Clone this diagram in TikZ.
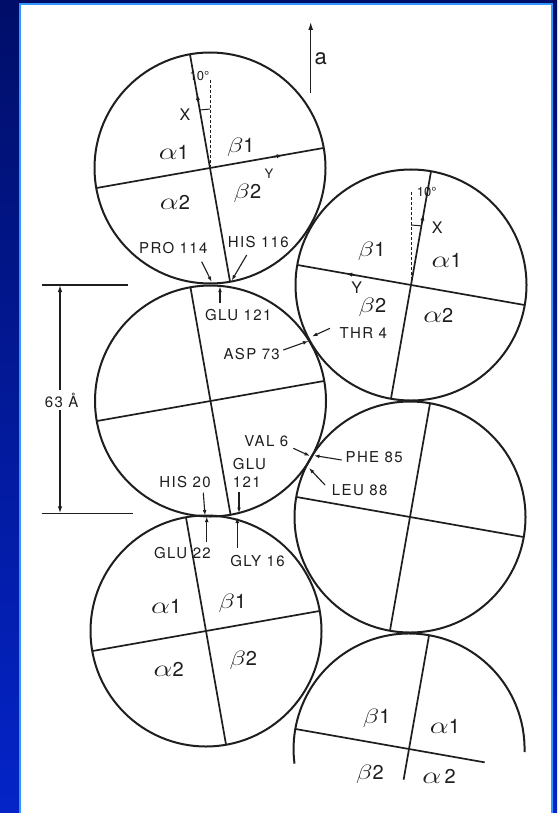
\documentclass[tikz,border=0pt]{standalone}
\usepackage{graphicx}
\usepackage{fontspec}
\setmainfont{TeX Gyre Heros}
\newfontfamily\lab[LetterSpace=9]{TeX Gyre Heros}
\usetikzlibrary{arrows.meta,calc}
\definecolor{ink}{RGB}{30,30,30}
\definecolor{bgtop}{RGB}{0,14,105}
\definecolor{bgbot}{RGB}{4,36,200}
\definecolor{edge}{RGB}{50,150,255}
\newcommand{\Alf}{\scalebox{1.45}[1.15]{$\alpha$}}
\newcommand{\Bet}{\scalebox{1.3}[1.0]{$\beta$}}
\begin{document}
\begin{tikzpicture}[x=1pt,y=-1pt,
  ring/.style={circle,draw=ink,line width=2pt,minimum size=231pt,inner sep=0pt,outer sep=0pt},
  hole/.style={circle,minimum size=231pt,inner sep=0pt,outer sep=0pt},
  axisline/.style={draw=ink,line width=1.7pt},
  axtip/.style={draw=ink,line width=1.7pt,-{Latex[length=6pt,width=4.2pt]}},
  dashline/.style={draw=ink,line width=0.9pt,dash pattern=on 3pt off 2pt},
  tick/.style={draw=ink,line width=1pt},
  ptr/.style={draw=ink,line width=1.1pt,-{Latex[length=5.5pt,width=3.8pt]}},
  res/.style={text=ink,font=\lab\fontsize{15}{17.7}\selectfont,inner sep=0pt},
  sub/.style={text=ink,font=\fontsize{20}{20}\selectfont,inner sep=0pt},
  ax/.style={text=ink,font=\fontsize{16}{16}\selectfont,inner sep=0pt},
  deg/.style={text=ink,font=\fontsize{13}{13}\selectfont,inner sep=0pt},
]
\useasboundingbox (0,0) rectangle (557,813);
% background
\shade[top color=bgtop,bottom color=bgbot] (0,0) rectangle (557,813);
\fill[white] (20,4) rectangle (552,813);
\draw[edge,line width=2.2pt] (20,813) -- (20,4) -- (552,4) -- (552,813);

% circles
\node[ring] (c1) at (210,168) {};
\node[ring] (c2) at (411,285) {};
\node[ring] (c3) at (210.5,401) {};
\node[ring] (c4) at (206,631) {};
\node[ring] (c5) at (410,517) {};
\node[hole] (c6) at (409,749) {};
\draw[ink,line width=2pt] ($(c6.center)+(115.5,3)$) arc[start angle=1.5,end angle=-187.3,radius=115.5];

% diameters
\draw[axisline] (c1.100) -- (c1.280);
\draw[axisline] (c1.190) -- (c1.10);
\draw[axisline] (c2.80) -- (c2.260);
\draw[axisline] (c2.170) -- (c2.350);
\draw[axisline] (c3.100) -- (c3.280);
\draw[axisline] (c3.190) -- (c3.10);
\draw[axisline] (c4.100) -- (c4.280);
\draw[axisline] (c4.190) -- (c4.10);
\draw[axisline] (c5.80) -- (c5.260);
\draw[axisline] (c5.170) -- (c5.350);
\draw[axisline] (c6.80) -- ($(c6.center)!0.27!(c6.260)$);
\draw[axisline] (c6.170) -- ($(c6.center)!0.665!(c6.350)$);

% axis arrows
\draw[axtip] ($(c1.center)!0.58!(c1.100)$) -- ($(c1.center)!0.65!(c1.100)$);
\draw[axtip] ($(c1.center)!0.56!(c1.10)$) -- ($(c1.center)!0.64!(c1.10)$);
\draw[axtip] ($(c2.center)!0.55!(c2.80)$) -- ($(c2.center)!0.62!(c2.80)$);
\draw[axtip] ($(c2.center)!0.50!(c2.170)$) -- ($(c2.center)!0.57!(c2.170)$);

% dashed verticals and angle ticks
\coordinate (d1) at (210,78);
\coordinate (d2) at (411,192);
\draw[dashline] (c1.center) -- (d1);
\draw[dashline] (c2.center) -- (d2);
\draw[tick] ($(c1.center)!0.51!(c1.100)$) -- ($(c1.center)!0.655!(d1)$);
\draw[tick] ($(c2.center)!0.52!(c2.80)$) -- ($(c2.center)!0.645!(d2)$);

% axis labels
\node[deg] (deg1) at (199.5,75.5) {10°};
\node[ax] (x1) at (185,115) {X};
\node[ax,font=\fontsize{13}{13}\selectfont] (y1) at (269,174) {Y};
\node[deg] (deg2) at (426.7,192) {10°};
\node[ax] (x2) at (437.3,227.3) {X};
\node[ax] (y2) at (356.7,287.5) {Y};

% subunit labels
\node[sub] (c1a1) at (173.8,152.3) {\Alf1};
\node[sub] (c1b1) at (240.8,147.5) {\Bet1};
\node[sub] (c1a2) at (175,202.5) {\Alf2};
\node[sub] (c1b2) at (247.5,193.3) {\Bet2};
\node[sub] (c2b1) at (371.7,251.7) {\Bet1};
\node[sub] (c2a1) at (446.7,260) {\Alf1};
\node[sub] (c2b2) at (372.5,307.5) {\Bet2};
\node[sub] (c2a2) at (438.3,315) {\Alf2};
\node[sub] (c4a1) at (166.2,606) {\Alf1};
\node[sub] (c4b1) at (232.5,603.3) {\Bet1};
\node[sub] (c4a2) at (168.7,669) {\Alf2};
\node[sub] (c4b2) at (243.3,660.8) {\Bet2};
\node[sub] (c6b1) at (376.7,718.3) {\Bet1};
\node[sub] (c6a1) at (445,726) {\Alf1};
\node[sub] (c6b2) at (370,774) {\Bet2};
\node[sub] (c6a2) at (439,776.7) {\Alf\,2};

% residue labels
\node[res] (pro) at (173.3,248) {PRO 114};
\node[res] (his116) at (258.3,241.7) {HIS 116};
\node[res] (glu121a) at (238.3,315.3) {GLU 121};
\node[res] (thr) at (363.3,333.3) {THR 4};
\node[res] (asp) at (251.7,353.7) {ASP 73};
\node[res] (val) at (266.3,440.8) {VAL 6};
\node[res,align=left,anchor=west] (glu121b) at (232.7,472.8) {GLU\\121};
\node[res] (his20) at (185,482) {HIS 20};
\node[res] (phe) at (374.2,456.7) {PHE 85};
\node[res] (leu) at (359.7,490) {LEU 88};
\node[res] (glu22) at (182.5,553.3) {GLU 22};
\node[res] (gly) at (257.5,560.8) {GLY 16};

% residue pointers
\coordinate (pA1) at (201.7,261.7); \coordinate (pA2) at (211.7,282);
\coordinate (pB1) at (246.7,255);   \coordinate (pB2) at (231.7,280.5);
\coordinate (pC1) at (220,303.3);   \coordinate (pC2) at (220,286.5);
\coordinate (pD1) at (283.3,350);   \coordinate (pD2) at (308.5,341);
\coordinate (pE1) at (330,328.3);   \coordinate (pE2) at (312,336.5);
\coordinate (pF1) at (293.3,448.3); \coordinate (pF2) at (310,456);
\coordinate (pG1) at (341.7,460);   \coordinate (pG2) at (314,455.5);
\coordinate (pH1) at (325,485);     \coordinate (pH2) at (309,468);
\coordinate (pI1) at (203.3,492.7); \coordinate (pI2) at (205,515.5);
\coordinate (pJ1) at (239,491.7);   \coordinate (pJ2) at (239,513);
\coordinate (pK1) at (206.7,541.7); \coordinate (pK2) at (206.7,516.5);
\coordinate (pL1) at (237.3,548.3); \coordinate (pL2) at (237.3,517.5);
\draw[ptr] (pA1) -- (pA2);
\draw[ptr] (pB1) -- (pB2);
\draw[ptr] (pC1) -- (pC2);
\draw[ptr] (pD1) -- (pD2);
\draw[ptr] (pE1) -- (pE2);
\draw[ptr] (pF1) -- (pF2);
\draw[ptr] (pG1) -- (pG2);
\draw[ptr] (pH1) -- (pH2);
\draw[ptr] (pI1) -- (pI2);
\draw[ptr] (pJ1) -- (pJ2);
\draw[ptr] (pK1) -- (pK2);
\draw[ptr] (pL1) -- (pL2);

% a axis
\coordinate (abot) at (310.7,93);
\coordinate (atop) at (310.7,22);
\draw[ink,line width=1.3pt,-{Latex[length=8pt,width=5pt]}] (abot) -- (atop);
\node[text=ink,font=\fontsize{22}{22}\selectfont,inner sep=0pt] (alab) at (320.8,58.3) {a};

% 63 A dimension
\coordinate (t1) at (41.7,285);  \coordinate (t2) at (128.3,285);
\coordinate (b1) at (41.7,513.3); \coordinate (b2) at (133,513.3);
\coordinate (vt) at (60,285);     \coordinate (vb) at (60,513.3);
\draw[ink,line width=1.3pt] (t1) -- (t2);
\draw[ink,line width=1.3pt] (b1) -- (b2);
\draw[ink,line width=1.3pt,{Latex[length=7pt,width=4.5pt]}-{Latex[length=7pt,width=4.5pt]}] (vt) -- (vb);
\node[res,fill=white,inner sep=2.5pt] (dim) at (61.7,400) {63 Å};
\end{tikzpicture}
\end{document}
